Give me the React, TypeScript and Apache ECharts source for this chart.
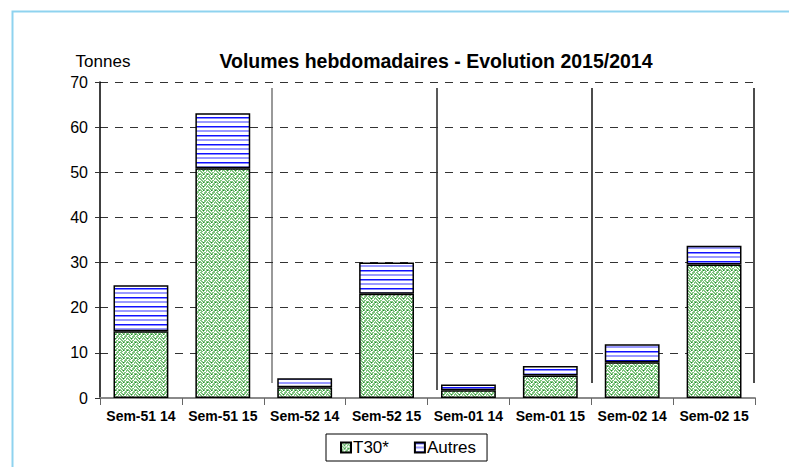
import React, { useEffect, useRef } from "react";
import * as echarts from "echarts";

const categories = ["Sem-51 14", "Sem-51 15", "Sem-52 14", "Sem-52 15", "Sem-01 14", "Sem-01 15", "Sem-02 14", "Sem-02 15"];
const t30Values = [14.8, 50.9, 2.4, 23.1, 1.7, 5.0, 7.9, 29.6];
const autresValues = [10.2, 12.2, 2.0, 6.9, 1.3, 2.1, 4.0, 4.1];
const seriesNames = ["T30*", "Autres"];
const titleText = "Volumes hebdomadaires - Evolution 2015/2014";
const yName = "Tonnes";

function makeT30Pattern(): HTMLCanvasElement {
  const c = document.createElement("canvas");
  c.width = 8;
  c.height = 8;
  const ctx = c.getContext("2d")!;
  ctx.fillStyle = "#ffffff";
  ctx.fillRect(0, 0, 8, 8);
  const map = [
    "LL..LLL.",
    ".LL.LL.L",
    "L.LDL.LL",
    "LL.L..L.",
    ".LL.LL..",
    "L.LLL.LL",
    "LL.DL.LD",
    ".LL..LL.",
  ];
  for (let y = 0; y < 8; y++) {
    for (let x = 0; x < 8; x++) {
      const ch = map[y][x];
      if (ch === "L") {
        ctx.fillStyle = "#80c480";
        ctx.fillRect(x, y, 1, 1);
      } else if (ch === "D") {
        ctx.fillStyle = "#1f8a2a";
        ctx.fillRect(x, y, 1, 1);
      }
    }
  }
  return c;
}

function makeAutresPattern(): HTMLCanvasElement {
  const c = document.createElement("canvas");
  c.width = 8;
  c.height = 9;
  const ctx = c.getContext("2d")!;
  ctx.fillStyle = "#ffffff";
  ctx.fillRect(0, 0, 8, 9);
  ctx.fillStyle = "#1010ff";
  ctx.fillRect(0, 0, 8, 1.5);
  ctx.fillStyle = "#9a9aff";
  ctx.fillRect(0, 4, 8, 2);
  return c;
}

export default function App() {
  const ref = useRef<HTMLDivElement>(null);
  useEffect(() => {
    if (!ref.current) return;
    const chart = echarts.init(ref.current, null, { renderer: "svg" });
    const t30Fill: any = { image: makeT30Pattern(), repeat: "repeat" };
    const autresFill: any = { image: makeAutresPattern(), repeat: "repeat" };
    const font = "Liberation Sans, Arial, sans-serif";
    chart.setOption({
      animation: false,
      backgroundColor: "#ffffff",
      textStyle: { fontFamily: font },
      title: {
        text: titleText,
        left: 431,
        top: 46,
        textAlign: "center",
        textStyle: { fontFamily: font, fontSize: 19.5, fontWeight: "bold", color: "#000" },
      },
      grid: { left: 100, right: 34, top: 82, bottom: 69 },
      legend: {
        data: seriesNames,
        left: 326,
        top: 434,
        orient: "horizontal",
        itemWidth: 10,
        itemHeight: 10,
        itemGap: 25,
        padding: [5, 11, 5, 14],
        borderColor: "#000",
        borderWidth: 1,
        icon: "rect",
        textStyle: { fontFamily: font, fontSize: 17, color: "#000", padding: [0, 0, 0, -3] },
      },
      xAxis: {
        type: "category",
        data: categories,
        axisLine: { lineStyle: { color: "#8a8a8a", width: 2 } },
        axisTick: { show: true, length: 7, lineStyle: { color: "#666", width: 1 } },
        axisLabel: { interval: 0, fontFamily: font, fontWeight: "bold", fontSize: 14, color: "#000", margin: 11 },
      },
      yAxis: {
        type: "value",
        min: 0,
        max: 70,
        interval: 10,
        name: yName,
        nameLocation: "end",
        nameGap: 12,
        nameTextStyle: { fontFamily: font, fontSize: 17, color: "#000", align: "center", padding: [0, 0, 0, 6] },
        axisLine: { show: true, lineStyle: { color: "#000", width: 1.5 } },
        axisTick: { show: true, length: 5, lineStyle: { color: "#333" } },
        splitLine: { show: true, lineStyle: { type: [8, 7], color: "#333", width: 1.2 } },
        axisLabel: { fontFamily: font, fontSize: 16, color: "#000", margin: 12 },
      },
      series: [
        {
          name: seriesNames[0],
          type: "bar",
          stack: "total",
          data: t30Values,
          barWidth: "67%",
          itemStyle: { color: t30Fill, borderColor: "#000", borderWidth: 1.5 },
        },
        {
          name: seriesNames[1],
          type: "bar",
          stack: "total",
          data: autresValues,
          barWidth: "67%",
          itemStyle: { color: autresFill, borderColor: "#000", borderWidth: 1.5 },
        },
      ],
      graphic: [
        {
          type: "rect",
          shape: { x: 12.5, y: 11.5, width: 900, height: 600 },
          style: { fill: "none", stroke: "#8fd3ef", lineWidth: 2 },
          silent: true,
        },
        { type: "line", shape: { x1: 272, y1: 88, x2: 272, y2: 383 }, style: { stroke: "#777", lineWidth: 1.5 } },
        { type: "line", shape: { x1: 437, y1: 88, x2: 437, y2: 390 }, style: { stroke: "#222", lineWidth: 1.5 } },
        { type: "line", shape: { x1: 592, y1: 88, x2: 592, y2: 383 }, style: { stroke: "#111", lineWidth: 1.5 } },
        { type: "line", shape: { x1: 754, y1: 88, x2: 754, y2: 383 }, style: { stroke: "#111", lineWidth: 1.5 } },
      ],
    });
    return () => chart.dispose();
  }, []);
  return (
    <div
      ref={ref}
      style={{ position: "fixed", left: 0, top: 0, width: 789, height: 467, background: "#fff" }}
    />
  );
}
